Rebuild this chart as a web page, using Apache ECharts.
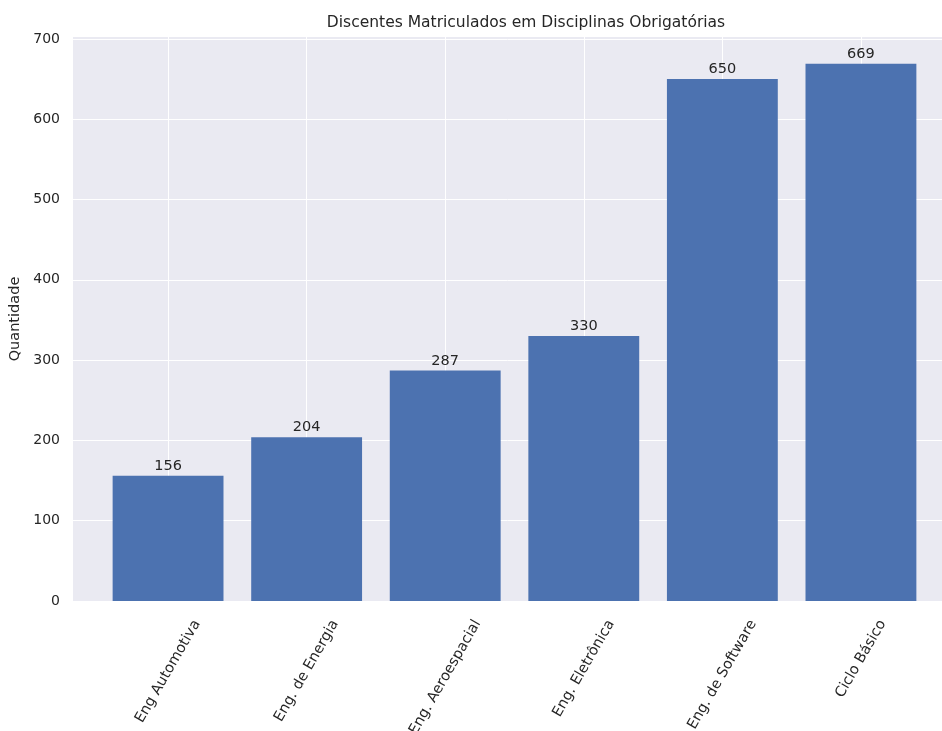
<!DOCTYPE html>
<html>
<head>
<meta charset="utf-8">
<script src="https://cdn.jsdelivr.net/npm/echarts@6/dist/echarts.min.js"></script>
<style>
  html, body { margin: 0; padding: 0; background: #ffffff; }
  #chart { width: 942px; height: 731px; }
</style>
</head>
<body>
<div id="chart"></div>
<script>
// Enrolled students per programme
const categories = ['Eng Automotiva', 'Eng. de Energia', 'Eng. Aeroespacial', 'Eng. Eletrônica', 'Eng. de Software', 'Ciclo Básico'];
const values = [156, 204, 287, 330, 650, 669];
const yTicks = [0, 100, 200, 300, 400, 500, 600, 700];
const xTicks = [0, 1, 2, 3, 4, 5];

const FONT = 'DejaVu Sans';
const TEXT = '#262626';
const LABEL_SIZE = 14.5;
const ROT = 60;

// Rotated tick labels are centred under each bar with a common top edge:
// give each label its own padding so the rotated box lands there.
const ctx = document.createElement('canvas').getContext('2d');
ctx.font = LABEL_SIZE + 'px "' + FONT + '"';
const rad = ROT * Math.PI / 180;
const lineH = 17;
const topGap = 16;
const rich = {};
categories.forEach(function (name, i) {
  const w = ctx.measureText(name).width;
  const d = topGap + (w * Math.sin(rad) + lineH * Math.cos(rad)) / 2;
  rich['c' + i] = {
    fontFamily: FONT,
    fontSize: LABEL_SIZE,
    color: TEXT,
    padding: [2 * d * Math.cos(rad), 2 * d * Math.sin(rad), 0, 0]
  };
});

const chart = echarts.init(document.getElementById('chart'), null, { renderer: 'canvas' });

chart.setOption({
  backgroundColor: '#ffffff',
  animation: false,
  title: {
    text: 'Discentes Matriculados em Disciplinas Obrigatórias',
    left: 521,
    top: 10,
    textAlign: 'center',
    textStyle: { fontFamily: FONT, fontSize: 15.5, fontWeight: 'normal', color: TEXT }
  },
  grid: {
    left: 73, top: 37, right: 0, bottom: 130,
    show: true, backgroundColor: '#EAEAF2', borderWidth: 0,
    containLabel: false,
    outerBoundsMode: 'none'
  },
  xAxis: {
    type: 'value',
    min: -0.686,
    max: 5.585,
    axisLine: { show: false },
    axisTick: { show: false, customValues: xTicks },
    splitLine: { show: true, lineStyle: { color: '#ffffff', width: 1 } },
    axisLabel: {
      customValues: xTicks,
      rotate: ROT,
      align: 'center',
      verticalAlign: 'middle',
      margin: 0,
      fontFamily: FONT,
      fontSize: LABEL_SIZE,
      color: TEXT,
      formatter: function (v) {
        const i = Math.round(v);
        return '{c' + i + '|' + categories[i] + '}';
      },
      rich: rich
    }
  },
  yAxis: {
    type: 'value',
    min: 0,
    max: 702.45,
    name: 'Quantidade',
    nameLocation: 'middle',
    nameGap: 48,
    nameTextStyle: { fontFamily: FONT, fontSize: 14.5, color: TEXT },
    axisLine: { show: false },
    axisTick: { show: false, customValues: yTicks },
    splitLine: { show: true, lineStyle: { color: '#ffffff', width: 1 } },
    axisLabel: {
      customValues: yTicks,
      margin: 13,
      fontFamily: FONT,
      fontSize: 14,
      color: TEXT
    }
  },
  series: [{
    type: 'bar',
    data: values.map(function (v, i) { return [i, v]; }),
    barWidth: '80%',
    itemStyle: { color: '#4C72B0' },
    label: {
      show: true,
      position: 'top',
      distance: 2,
      fontFamily: FONT,
      fontSize: 14.5,
      color: TEXT,
      formatter: function (p) { return String(p.value[1]); }
    }
  }]
});
</script>
</body>
</html>
